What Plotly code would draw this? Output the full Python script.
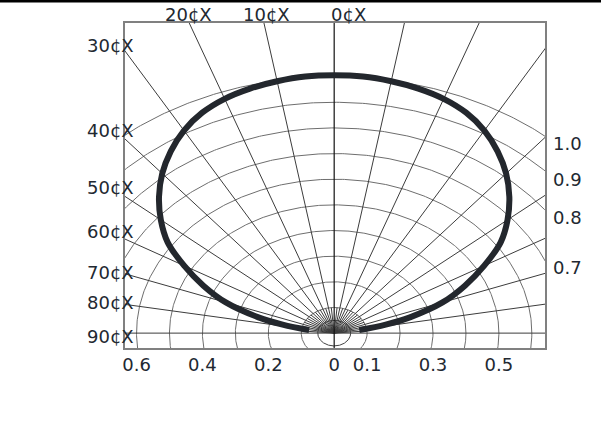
import numpy as np
import plotly.graph_objects as go

# ---------------- data ----------------
ANGLES = [0, 5, 10, 15, 20, 25, 30, 35, 40, 45, 50, 55, 60, 65, 70, 75, 78, 81]
INTENSITY = [1.005, 1.004, 0.997, 0.987, 0.972, 0.948, 0.912, 0.865, 0.812,
             0.752, 0.687, 0.617, 0.526, 0.438, 0.350, 0.238, 0.160, 0.077]
RING_R = [0.1, 0.2, 0.3, 0.4, 0.5, 0.6, 0.7, 0.8, 0.9, 1.0]
RAY_DEG = [-80, -70, -60, -50, -40, -30, -20, -10, 10, 20, 30, 40, 50, 60, 70, 80]
SHORT_RAY_DEG = [-85, -75, -65, -55, -45, -35, -25, -15, -5, 5, 15, 25, 35, 45, 55, 65, 75, 85]
SHORT_RAY_LEN = 0.1
SMALL_CIRCLE_R = 0.05
TOP_LABELS = ["20¢X", "10¢X", "0¢X"]
LEFT_LABELS = ["30¢X", "40¢X", "50¢X", "60¢X", "70¢X", "80¢X", "90¢X"]
RIGHT_LABELS = ["1.0", "0.9", "0.8", "0.7"]
X_TICKVALS = [-0.6, -0.4, -0.2, 0, 0.1, 0.3, 0.5]
X_TICKTEXT = ["0.6", "0.4", "0.2", "0", "0.1", "0.3", "0.5"]

# ---------------- layout geometry (pixels) ----------------
W, H = 601, 423
ML, MR, MT, MB = 125, 56, 23, 75
PW, PH = W - ML - MR, H - MT - MB
XR = [-0.635, 0.640]
YR = [-0.058, 1.209]

TOP_POS = [(188, 14), (266, 14), (348, 14)]
LEFT_POS = [(110, 45), (110, 130), (110, 187), (110, 231), (110, 272), (110, 302), (110, 336)]
RIGHT_POS = [(567, 143), (567, 179), (567, 217), (567, 267)]


def px2paper(px, py):
    return (px - ML) / PW, (H - MB - py) / PH


FONT = dict(family="DejaVu Sans", size=18, color="#222831")

fig = go.Figure()

# rings (full circles, clipped by the axes)
t = np.linspace(0, 2 * np.pi, 721)
rx, ry = [], []
for r in RING_R:
    rx += list(r * np.cos(t)) + [None]
    ry += list(r * np.sin(t)) + [None]
fig.add_trace(go.Scatter(x=rx, y=ry, mode="lines", line=dict(color="#6e6e6e", width=1),
                         hoverinfo="skip", showlegend=False))

# small circle around origin
fig.add_trace(go.Scatter(x=list(SMALL_CIRCLE_R * np.cos(t)), y=list(SMALL_CIRCLE_R * np.sin(t)),
                         mode="lines", line=dict(color="#444444", width=1),
                         hoverinfo="skip", showlegend=False))

# rays
L = 3.0
ax, ay = [], []
for a in RAY_DEG:
    th = np.radians(a)
    ax += [0, L * np.sin(th), None]
    ay += [0, L * np.cos(th), None]
for a in SHORT_RAY_DEG:
    th = np.radians(a)
    ax += [0, SHORT_RAY_LEN * np.sin(th), None]
    ay += [0, SHORT_RAY_LEN * np.cos(th), None]
# horizontal 90 deg line
ax += [-L, L, None]
ay += [0, 0, None]
fig.add_trace(go.Scatter(x=ax, y=ay, mode="lines", line=dict(color="#3c3c3c", width=1),
                         hoverinfo="skip", showlegend=False))
# 0 deg vertical line, continues to the bottom
fig.add_trace(go.Scatter(x=[0, 0], y=[-1, L], mode="lines", line=dict(color="#111111", width=1.2),
                         hoverinfo="skip", showlegend=False))

# radiation curve (symmetric)
ang = [-a for a in ANGLES[::-1]] + ANGLES[1:]
rr = INTENSITY[::-1] + INTENSITY[1:]
th = np.radians(ang)
cx = np.array(rr) * np.sin(th)
cy = np.array(rr) * np.cos(th)
fig.add_trace(go.Scatter(x=cx, y=cy, mode="lines", line=dict(color="#23272d", width=6, shape="spline"),
                         hoverinfo="skip", showlegend=False))

annotations = []
for lab, (px, py) in zip(TOP_LABELS + LEFT_LABELS + RIGHT_LABELS, TOP_POS + LEFT_POS + RIGHT_POS):
    x, y = px2paper(px, py)
    annotations.append(dict(x=x, y=y, xref="paper", yref="paper", text=lab, showarrow=False,
                            xanchor="center", yanchor="middle", font=FONT))

shapes = [dict(type="line", xref="paper", yref="paper",
               x0=px2paper(0, 1.2)[0], x1=px2paper(W, 1.2)[0],
               y0=px2paper(0, 1.2)[1], y1=px2paper(0, 1.2)[1],
               line=dict(color="#000000", width=2.5))]

fig.update_layout(
    width=W, height=H, autosize=False,
    margin=dict(l=ML, r=MR, t=MT, b=MB, pad=0),
    paper_bgcolor="white", plot_bgcolor="white",
    font=FONT,
    annotations=annotations, shapes=shapes,
    xaxis=dict(range=XR, tickvals=X_TICKVALS, ticktext=X_TICKTEXT, showgrid=False, zeroline=False,
               showline=True, mirror=True, linecolor="#808080", linewidth=1.5,
               ticks="", tickfont=FONT, fixedrange=True),
    yaxis=dict(range=YR, showticklabels=False, showgrid=False, zeroline=False,
               showline=True, mirror=True, linecolor="#808080", linewidth=1.5, ticks="", fixedrange=True),
)

fig.write_html("out.html", config={"displayModeBar": False},
               post_script="document.body.style.margin='0';")
